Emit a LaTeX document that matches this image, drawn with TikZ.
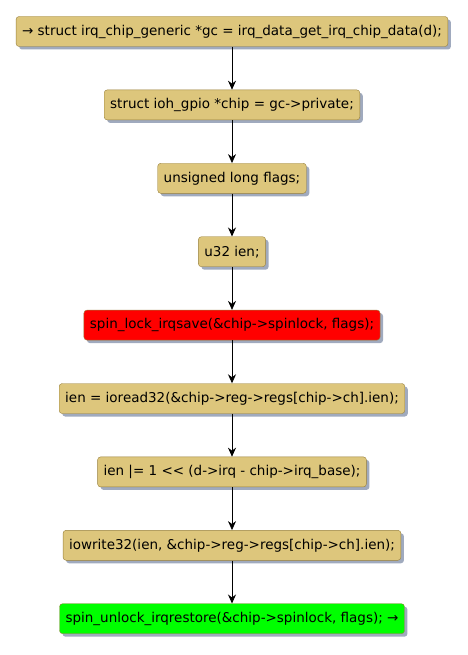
\documentclass[tikz,border=0pt]{standalone}
\usepackage{fontspec}
\setmainfont{DejaVu Sans}
\usetikzlibrary{arrows.meta, positioning, shadows}
\definecolor{stepfill}{RGB}{221,198,124}
\definecolor{stepdraw}{RGB}{152,128,60}
\definecolor{shadowgray}{RGB}{160,170,190}

\begin{document}
\begin{tikzpicture}[
        x=1pt, y=1pt,
        node distance=43pt,
        action/.style={rectangle, draw=stepdraw, fill=stepfill, minimum height=30pt, inner xsep=6pt, rounded corners=3pt, font=\fontsize{13.5}{16}\selectfont, drop shadow={shadow xshift=3pt, shadow yshift=-3pt, fill=shadowgray, opacity=1}},
        flow/.style={-{Stealth[length=9pt, width=8pt]}, draw=black, line width=0.8pt}
    ]
        \useasboundingbox (0,0) rectangle (467,-655);

        \node[action] (gc) at (232,-31.5) {→ struct irq\_chip\_generic *gc = irq\_data\_get\_irq\_chip\_data(d);};
        \node[action, below=of gc] (chip) {struct ioh\_gpio *chip = gc->private;};
        \node[action, below=of chip] (flags) {unsigned long flags;};
        \node[action, below=of flags] (ien) {u32 ien;};
        \node[action, fill=red, below=of ien] (lock) {spin\_lock\_irqsave(\&chip->spinlock, flags);};
        \node[action, below=of lock] (read) {ien = ioread32(\&chip->reg->regs[chip->ch].ien);};
        \node[action, below=of read] (setbit) {ien |= 1 <{}< (d->irq - chip->irq\_base);};
        \node[action, below=of setbit] (write) {iowrite32(ien, \&chip->reg->regs[chip->ch].ien);};
        \node[action, fill=green, below=of write] (unlock) {spin\_unlock\_irqrestore(\&chip->spinlock, flags); →};

        \draw[flow] (gc) -- (chip);
        \draw[flow] (chip) -- (flags);
        \draw[flow] (flags) -- (ien);
        \draw[flow] (ien) -- (lock);
        \draw[flow] (lock) -- (read);
        \draw[flow] (read) -- (setbit);
        \draw[flow] (setbit) -- (write);
        \draw[flow] (write) -- (unlock);
    \end{tikzpicture}
\end{document}
